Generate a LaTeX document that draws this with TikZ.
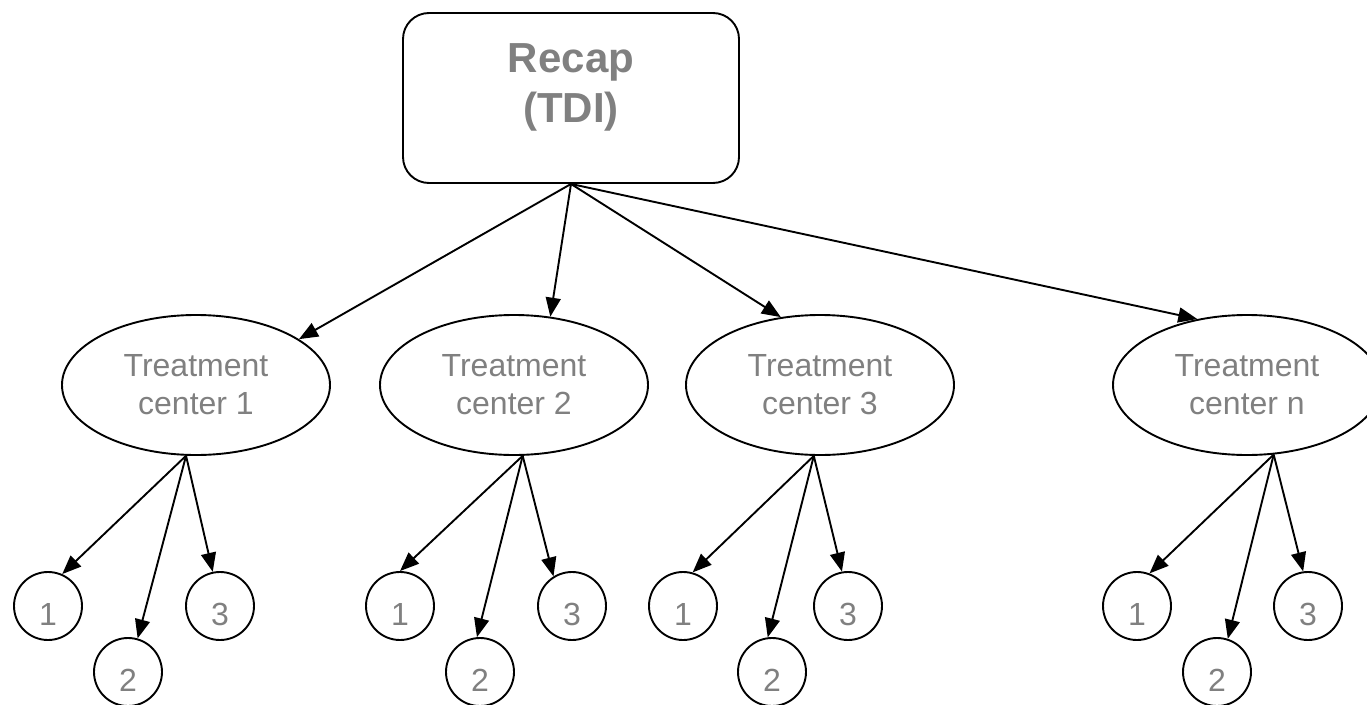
\documentclass[tikz,border=0pt]{standalone}
\usepackage{fontspec}
\setmainfont{Liberation Sans}
\usetikzlibrary{shapes.geometric,arrows.meta}
\definecolor{txtgray}{HTML}{808080}
\begin{document}
\begin{tikzpicture}[x=1pt,y=-1pt,
  ln/.style={line width=1.9pt},
  recapbox/.style={draw,ln,rounded corners=26pt,minimum width=336pt,minimum height=170pt,inner sep=0pt},
  recaptext/.style={font=\bfseries\fontsize{42}{50}\selectfont,text=txtgray,align=center,anchor=north,inner sep=0pt},
  tcenter/.style={ellipse,draw,ln,minimum width=268pt,minimum height=140pt,inner sep=0pt,align=center,text=txtgray,font=\fontsize{32}{38}\selectfont},
  leaf/.style={circle,draw,ln,minimum size=68pt,inner sep=0pt,text height=38pt,text depth=0pt,text=txtgray,font=\fontsize{32}{36}\selectfont},
  arr/.style={ln,-{Triangle[length=19pt,width=15pt]}}
]
\useasboundingbox (0,0) rectangle (1367,704);
\clip (0,0) rectangle (1367,704);

\node[recapbox] (recap) at (571,98) {};
\node[recaptext] (recaptxt) at (571,43) {Recap\\(TDI)};

\node[tcenter] (e1) at (196,385) {Treatment\\center 1};
\node[tcenter] (e2) at (514,385) {Treatment\\center 2};
\node[tcenter] (e3) at (820,385) {Treatment\\center 3};
\node[tcenter] (en) at (1247,385) {Treatment\\center n};

\node[leaf] (a1) at (48,606) {1};
\node[leaf] (a2) at (128,672) {2};
\node[leaf] (a3) at (220,606) {3};
\node[leaf] (b1) at (400,606) {1};
\node[leaf] (b2) at (480,672) {2};
\node[leaf] (b3) at (572,606) {3};
\node[leaf] (c1) at (683,606) {1};
\node[leaf] (c2) at (772,672) {2};
\node[leaf] (c3) at (848,606) {3};
\node[leaf] (d1) at (1137,606) {1};
\node[leaf] (d2) at (1217,672) {2};
\node[leaf] (d3) at (1308,606) {3};

\draw[arr] (recap.south) -- (e1.24);
\draw[arr] (recap.south) -- (e2.62);
\draw[arr] (recap.south) -- (e3.120);
\draw[arr] (recap.south) -- (en.127);

\draw[arr] (e1.262) -- (a1.66);
\draw[arr] (e1.262) -- (a2.74);
\draw[arr] (e1.262) -- (a3.102);
\draw[arr] (e2.277) -- (b1.90);
\draw[arr] (e2.277) -- (b2.95);
\draw[arr] (e2.277) -- (b3.122);
\draw[arr] (e3.265) -- (c1.74);
\draw[arr] (e3.265) -- (c2.97);
\draw[arr] (e3.265) -- (c3.100);
\draw[arr] (en.291) -- (d1.69);
\draw[arr] (en.291) -- (d2.72);
\draw[arr] (en.291) -- (d3.98);
\end{tikzpicture}
\end{document}
